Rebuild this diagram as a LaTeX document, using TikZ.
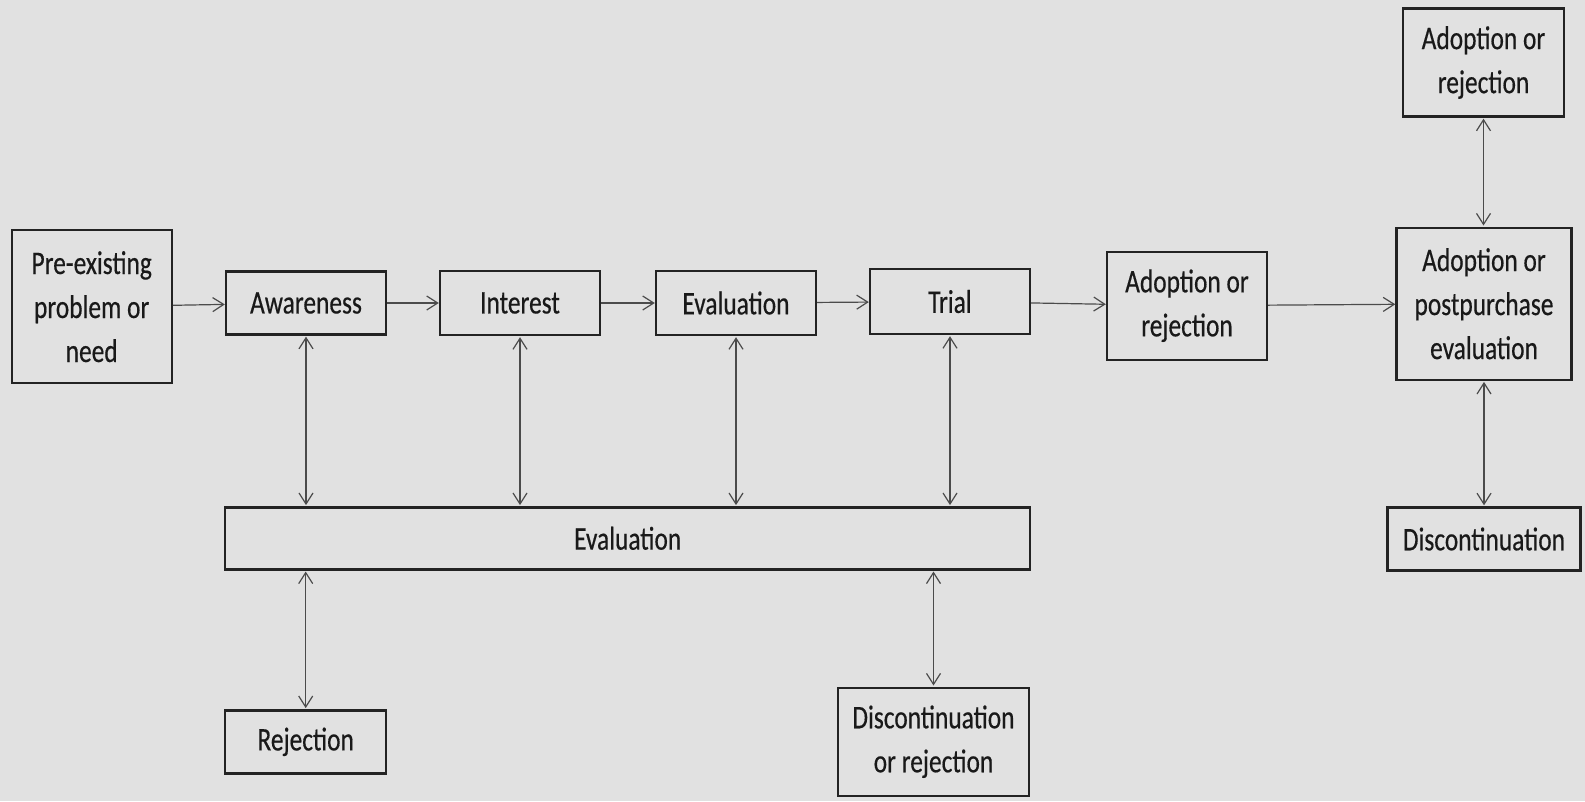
\documentclass[tikz,border=0pt]{standalone}
\usepackage{fontspec}
\setmainfont{Carlito}[FakeStretch=0.77,FakeBold=0.4]
\usetikzlibrary{arrows.meta}
\definecolor{bg}{RGB}{225,225,225}
\definecolor{edgec}{RGB}{35,35,35}
\definecolor{linkc}{RGB}{75,75,75}
\definecolor{ink}{RGB}{25,25,25}
\begin{document}
\begin{tikzpicture}[x=1pt,y=-1pt,
  box/.style={draw=edgec, line width=2.4pt, fill=bg, text=ink, inner sep=0pt, align=center,
    font=\fontsize{33}{44}\selectfont},
  link/.style={draw=linkc, line width=1.2pt, -{Straight Barb[length=11pt,width=14pt]}},
  both/.style={draw=linkc, line width=1.2pt, {Straight Barb[length=11pt,width=14pt]}-{Straight Barb[length=11pt,width=14pt]}, shorten <=1pt, shorten >=1pt}
]
\fill[bg] (0,0) rectangle (1585,801);
\useasboundingbox (0,0) rectangle (1585,801);

\node[box, minimum width=160pt, minimum height=153pt] (pre) at (91.7,306.7) {Pre-existing\\problem or\\need};
\node[box, minimum width=160pt, minimum height=63pt] (aw) at (306,303) {Awareness};
\node[box, minimum width=160pt, minimum height=64pt] (int) at (520,303) {Interest};
\node[box, minimum width=160pt, minimum height=64pt] (ev) at (736,303) {Evaluation};
\node[box, minimum width=160pt, minimum height=65pt] (tr) at (950,301.5) {Trial};
\node[box, minimum width=160pt, minimum height=108pt] (ad) at (1187,305.7) {Adoption or\\rejection};
\node[box, minimum width=175pt, minimum height=152pt] (pp) at (1484,303.7) {Adoption or\\postpurchase\\evaluation};
\node[box, minimum width=161pt, minimum height=108pt] (adt) at (1483.5,62.5) {Adoption or\\rejection};
\node[box, minimum width=193pt, minimum height=63pt] (disc) at (1484,539) {Discontinuation};
\node[box, minimum width=805pt, minimum height=62pt] (big) at (627.7,538.3) {Evaluation};
\node[box, minimum width=161pt, minimum height=63pt] (rej) at (305.7,741.8) {Rejection};
\node[box, minimum width=191pt, minimum height=108pt] (dor) at (933.5,741.7) {Discontinuation\\or rejection};

\draw[link] (pre) -- (aw);
\draw[link] (aw) -- (int);
\draw[link] (int) -- (ev);
\draw[link] (ev) -- (tr);
\draw[link] (tr) -- (ad);
\draw[link] (ad) -- (pp);

\draw[both] (aw.south) -- (aw.south |- big.north);
\draw[both] (int.south) -- (int.south |- big.north);
\draw[both] (ev.south) -- (ev.south |- big.north);
\draw[both] (tr.south) -- (tr.south |- big.north);
\draw[both] (rej.north) -- (rej.north |- big.south);
\draw[both] (dor.north) -- (dor.north |- big.south);
\draw[both] (adt.south) -- (adt.south |- pp.north);
\draw[both] (pp.south) -- (pp.south |- disc.north);
\end{tikzpicture}
\end{document}
